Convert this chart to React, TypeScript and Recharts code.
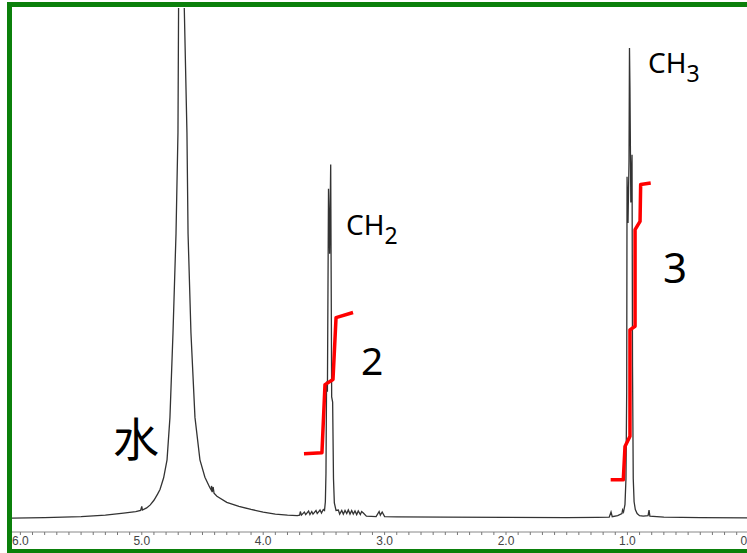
import { ComposedChart, Line, XAxis, YAxis } from 'recharts'

// chemical shift (ppm) / intensity pairs
const SPEC_WATER: [number, number][] = [
  [6.07, 0.3], [5.8, 0.4], [5.5, 0.6], [5.3, 0.9], [5.15, 1.3], [5.05, 1.6],
  [5.01, 1.8], [5.0, 2.6], [4.995, 1.9], [4.96, 2.3], [4.93, 2.9], [4.9, 3.8],
  [4.87, 5.0], [4.85, 5.9], [4.82, 8.2], [4.792, 11.7], [4.768, 20], [4.743, 36.5],
  [4.718, 56], [4.702, 75.6], [4.697, 100], [4.675, 400], [4.65, 100],
  [4.628, 75.6], [4.619, 56], [4.595, 36.5], [4.562, 20], [4.521, 11.7],
  [4.48, 8.3], [4.44, 6.3], [4.428, 5.8], [4.426, 6.6], [4.42, 5.4],
  [4.412, 6.4], [4.405, 5.2], [4.381, 4.6], [4.3, 3.4], [4.2, 2.6],
  [4.1, 2.0], [4.0, 1.5], [3.9, 1.1], [3.8, 0.9], [3.72, 0.8],
]

const SPEC_CH2: [number, number][] = [
  [3.7, 0.9], [3.694, 1.6], [3.685, 0.9], [3.661, 1.5], [3.65, 1.0],
  [3.626, 1.7], [3.615, 1.0], [3.6, 1.6], [3.59, 1.1], [3.565, 1.8],
  [3.555, 1.2], [3.532, 1.9], [3.52, 1.3], [3.505, 2.0], [3.495, 1.8],
  [3.488, 3.5], [3.483, 9], [3.478, 27], [3.471, 25], [3.462, 64.7],
  [3.453, 52], [3.444, 69.4], [3.436, 24], [3.428, 23], [3.421, 8],
  [3.414, 3.3], [3.4, 1.8], [3.381, 1.9], [3.37, 1.1], [3.353, 1.8],
  [3.34, 1.1], [3.326, 1.8], [3.312, 1.2], [3.299, 1.9], [3.285, 1.1],
  [3.271, 1.8], [3.258, 1.1], [3.244, 1.7], [3.23, 1.0], [3.217, 1.7],
  [3.2, 1.0], [3.189, 1.6], [3.175, 1.3], [3.15, 0.7], [3.07, 0.6],
  [3.045, 1.6], [3.035, 0.9], [3.02, 1.5], [3.0, 0.6],
]

const SPEC_BASE: [number, number][] = [
  [2.9, 0.55], [2.5, 0.5], [2.0, 0.45], [1.5, 0.4], [1.25, 0.45],
]

const SPEC_CH3: [number, number][] = [
  [1.15, 0.5], [1.135, 1.5], [1.125, 0.6], [1.08, 0.8], [1.045, 1.2],
  [1.04, 1.9], [1.032, 1.5], [1.02, 3.0], [1.012, 8], [1.006, 25],
  [1.003, 67], [0.995, 58], [0.987, 70], [0.983, 92.2], [0.979, 84],
  [0.972, 62], [0.962, 71.3], [0.958, 30], [0.952, 8], [0.945, 3.5],
  [0.935, 2], [0.92, 1.2], [0.9, 0.8], [0.87, 0.7], [0.83, 0.8],
  [0.822, 1.9], [0.815, 0.7], [0.7, 0.5], [0.4, 0.4], [0.0, 0.35], [-0.1, 0.35],
]

// hand-drawn integral traces
const INTEGRAL_CH2: [number, number][] = [
  [3.664, 12.9], [3.516, 13.1], [3.491, 26.4], [3.425, 27.4], [3.4, 39.5], [3.26, 40.5],
]

const INTEGRAL_CH3: [number, number][] = [
  [1.138, 7.8], [1.034, 7.8], [1.02, 14.3], [0.979, 16.3], [0.979, 37.1],
  [0.937, 37.8], [0.937, 56.7], [0.896, 58.3], [0.891, 65.5], [0.808, 65.8],
]

const PPM_TICKS = Array.from({ length: 61 }, (_, i) => i / 10)

const rows = (pts: [number, number][]) => pts.map(([ppm, i]) => ({ ppm, i }))

const spectrum = rows([...SPEC_WATER, ...SPEC_CH2, ...SPEC_BASE, ...SPEC_CH3])

function PpmTick(props: any) {
  const { x, y, payload } = props
  const v = payload.value as number
  const major = Math.abs(v - Math.round(v)) < 1e-6
  return (
    <g>
      <line x1={x} x2={x} y1={y} y2={y + 3} stroke="#777" />
      {major && (
        <text
          x={x}
          y={y + 13}
          textAnchor="middle"
          fontSize={12}
          fill="#444"
          fontFamily="'Liberation Sans', Arial, sans-serif"
        >
          {v.toFixed(1)}
        </text>
      )}
    </g>
  )
}

const label = (left: number, top: number, size: number, font = "'Noto Sans', sans-serif") => ({
  position: 'absolute' as const,
  left,
  top,
  fontSize: size,
  lineHeight: 1,
  fontFamily: font,
  color: '#000',
  whiteSpace: 'nowrap' as const,
})

export default function App() {
  return (
    <div style={{ position: 'fixed', left: 0, top: 0, width: 747, height: 553, overflow: 'hidden', background: '#fff' }}>
      <div style={{ position: 'absolute', left: 0, top: 0 }}>
        <ComposedChart width={760} height={553} margin={{ top: 8, right: 0, bottom: 0, left: 12 }}>
          <XAxis
            type="number"
            dataKey="ppm"
            domain={[-0.092, 6.069]}
            reversed
            allowDataOverflow
            ticks={PPM_TICKS}
            interval={0}
            tickSize={0}
            tickMargin={0}
            tickLine={false}
            tick={<PpmTick />}
            axisLine={{ stroke: '#888' }}
            height={21}
          />
          <YAxis type="number" domain={[-2.4, 100]} allowDataOverflow hide />
          <Line data={spectrum} dataKey="i" stroke="#333" strokeWidth={1.3} dot={false} isAnimationActive={false} />
          <Line
            data={rows(INTEGRAL_CH2)}
            dataKey="i"
            stroke="#ff0000"
            strokeWidth={3.5}
            strokeLinejoin="round"
            dot={false}
            isAnimationActive={false}
          />
          <Line
            data={rows(INTEGRAL_CH3)}
            dataKey="i"
            stroke="#ff0000"
            strokeWidth={3.5}
            strokeLinejoin="round"
            dot={false}
            isAnimationActive={false}
          />
        </ComposedChart>
      </div>

      <div style={label(648, 48, 28)}>
        CH<span style={{ fontSize: 23, position: 'relative', top: 9 }}>3</span>
      </div>
      <div style={label(346, 210, 28)}>
        CH<span style={{ fontSize: 23, position: 'relative', top: 9 }}>2</span>
      </div>
      <div style={label(361, 340, 39)}>2</div>
      <div style={label(663, 246, 42)}>3</div>
      <div style={label(113, 413, 46, "'Noto Sans CJK SC', sans-serif")}>水</div>

      <div
        style={{
          position: 'absolute',
          left: 7,
          top: 2,
          width: 800,
          height: 552,
          boxSizing: 'border-box',
          border: '5px solid #0b800b',
          pointerEvents: 'none',
        }}
      />
    </div>
  )
}
